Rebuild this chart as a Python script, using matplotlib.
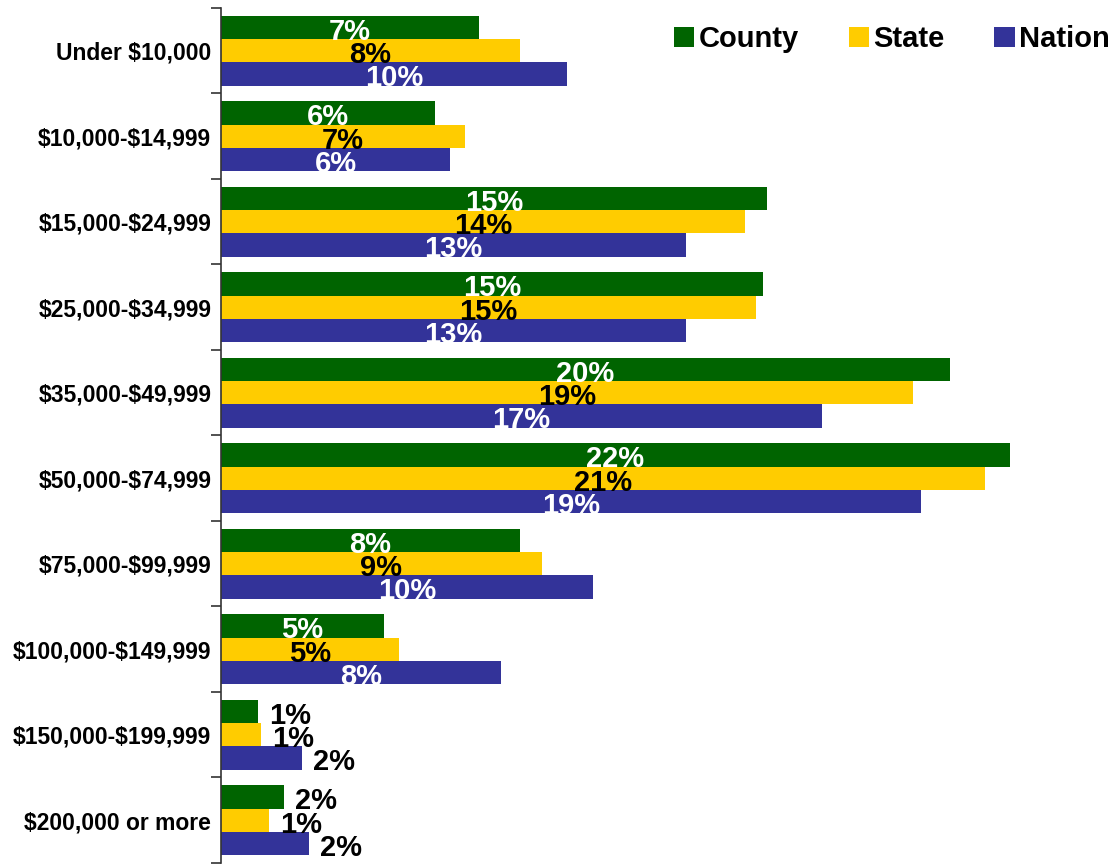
import numpy as np
import matplotlib

matplotlib.use('Agg')
from matplotlib import pyplot as plt
from matplotlib.patches import Patch

plt.rcParams['font.family'] = ['Liberation Sans', 'DejaVu Sans']
plt.rcParams['font.weight'] = 'bold'
plt.rcParams['text.parse_math'] = False

categories = ['Under $10,000', '$10,000-$14,999', '$15,000-$24,999', '$25,000-$34,999',
              '$35,000-$49,999', '$50,000-$74,999', '$75,000-$99,999', '$100,000-$149,999',
              '$150,000-$199,999', '$200,000 or more']
county = [7.13, 5.92, 15.10, 14.98, 20.16, 21.81, 8.27, 4.51, 1.02, 1.74]
state = [8.27, 6.75, 14.49, 14.79, 19.13, 21.12, 8.87, 4.92, 1.11, 1.33]
nation = [9.57, 6.33, 12.86, 12.86, 16.62, 19.35, 10.28, 7.74, 2.24, 2.43]

series = [('County', county, '#006400', 'white'),
          ('State', state, '#FFCC00', 'black'),
          ('Nation', nation, '#333399', 'white')]

fig = plt.figure(figsize=(11.12, 8.65), dpi=100)
ax = fig.add_axes([221 / 1112, 2 / 865, 1 - 221 / 1112, 855 / 865])

n = len(categories)
y = np.arange(n)
h = 0.272
for j, (name, vals, col, tcol) in enumerate(series):
    yy = y + (j - 1) * h
    ax.barh(yy, vals, height=h, color=col, label=name)
    for yi, v in zip(yy, vals):
        txt = '%d%%' % round(v)
        if v < 3:
            # short bars: label sits just past the end
            ax.text(v + 0.3, yi + 0.05, txt, ha='left', va='center',
                    fontsize=21, fontweight='bold', color='black')
        else:
            ax.text(v / 2, yi + 0.05, txt, ha='center', va='center',
                    fontsize=21, fontweight='bold', color=tcol)

ax.set_xlim(0, 891 / 36.17)
ax.set_ylim(n - 0.5, -0.5)
ax.set_yticks(y)
ax.set_yticklabels(categories, fontsize=16.5, fontweight='bold')
ax.tick_params(axis='y', which='major', length=0, pad=7)
ax.set_yticks(np.arange(n + 1) - 0.5, minor=True)
ax.tick_params(axis='y', which='minor', length=7, width=1.2, color='#333333')
ax.set_xticks([])
for s in ['top', 'right', 'bottom']:
    ax.spines[s].set_visible(False)
ax.spines['left'].set_color('#333333')
ax.spines['left'].set_linewidth(1.2)

handles = [Patch(facecolor=c, edgecolor='none', label=nm) for nm, _, c, _ in series]
fig.legend(handles=handles, loc='center right', bbox_to_anchor=(0.998, 1 - 39 / 865),
           ncol=3, frameon=False, handlelength=0.7, handleheight=0.7,
           handletextpad=0.15, columnspacing=1.7, borderaxespad=0, borderpad=0,
           prop={'weight': 'bold', 'size': 21})

fig.savefig('out.png', dpi=100)
